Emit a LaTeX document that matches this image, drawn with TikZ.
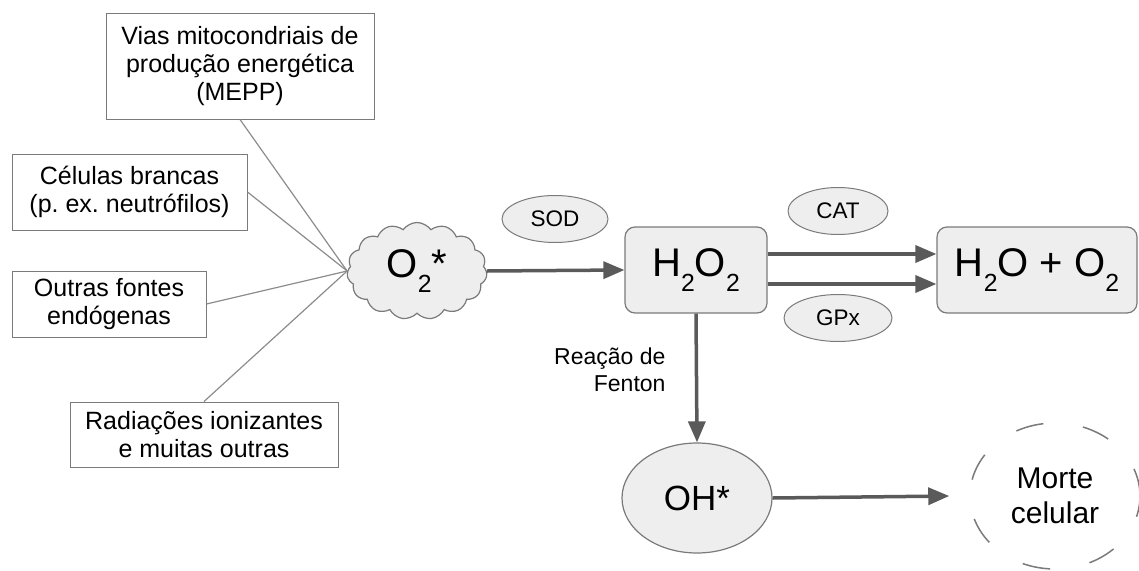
\documentclass[tikz,border=0pt]{standalone}
\usepackage{fontspec}
\setmainfont{Liberation Sans}
\usetikzlibrary{shapes.geometric,shapes.symbols,arrows.meta}
\definecolor{fillgray}{HTML}{EEEEEE}
\definecolor{linegray}{HTML}{7A7A7A}
\definecolor{feedgray}{HTML}{8C8C8C}
\definecolor{arrowgray}{HTML}{5A5A5A}
\newcommand{\chemsub}[1]{\raisebox{-0.36em}{\scalebox{0.62}{#1}}}
\frenchspacing

\begin{document}
\begin{tikzpicture}[x = 1pt, y = -1pt,
  source/.style = {draw = linegray, line width = 1pt, align = center, font = \fontsize{25}{28}\selectfont, inner sep = 0pt},
  enzyme/.style = {ellipse, draw = linegray, fill = fillgray, line width = 1pt, font = \fontsize{22.5}{25}\selectfont, minimum height = 47pt, inner sep = 0pt},
  species/.style = {rectangle, rounded corners = 10pt, draw = linegray, fill = fillgray, line width = 1.2pt, minimum height = 86pt, font = \fontsize{40}{44}\selectfont},
  feed/.style = {draw = feedgray, line width = 1.2pt},
  flow/.style = {draw = arrowgray, line width = 3.5pt, -{Triangle[length = 21pt, width = 17pt]}}]
\useasboundingbox (0, 0) rectangle (1139, 570);

% sources
\node[source, minimum width = 268pt, minimum height = 106pt] (mepp) at (240, 66) {Vias mitocondriais de\\produção energética\\(MEPP)};
\node[source, minimum width = 235pt, minimum height = 76pt] (brancas) at (129.5, 192) {Células brancas\\(p. ex. neutrófilos)};
\node[source, minimum width = 194pt, minimum height = 66pt] (outras) at (109, 304) {Outras fontes\\endógenas};
\node[source, minimum width = 268pt, minimum height = 65pt] (radiacoes) at (204, 434.5) {Radiações ionizantes\\e muitas outras};

\node[cloud, cloud puffs = 15, cloud puff arc = 110, cloud ignores aspect, draw = linegray, fill = fillgray, line width = 1.2pt, minimum width = 140pt, minimum height = 97pt, font = \fontsize{40}{44}\selectfont, inner sep = 0pt] (o2) at (417, 271) {O\chemsub{2}*};

% enzymes and products
\node[enzyme, minimum width = 106pt] (sod) at (555, 219) {SOD};
\node[species, minimum width = 142pt] (h2o2) at (696, 270) {H\chemsub{2}O\chemsub{2}};
\node[enzyme, minimum width = 100pt] (cat) at (838, 211) {CAT};
\node[enzyme, minimum width = 108pt] (gpx) at (838, 318) {GPx};
\node[species, minimum width = 200pt] (h2o) at (1037, 270) {H\chemsub{2}O + O\chemsub{2}};
\node[ellipse, draw = linegray, fill = fillgray, line width = 1.2pt, minimum width = 150pt, minimum height = 110pt, font = \fontsize{35}{40}\selectfont, inner sep = 0pt] (oh) at (697, 498) {OH*};
\node[ellipse, draw = linegray, line width = 1.5pt, dash pattern = on 28pt off 40pt, minimum width = 170pt, minimum height = 146pt, align = center, font = \fontsize{30}{35}\selectfont] (morte) at (1055, 496) {Morte\\celular};
\node[anchor = east, align = right, font = \fontsize{23}{27}\selectfont] (fenton) at (669, 370) {Reação de\\Fenton};

\draw[feed] (mepp.south) -- (o2.west);
\draw[feed] (brancas.east) -- (o2.west);
\draw[feed] (outras.east) -- (o2.west);
\draw[feed] (radiacoes.north) -- (o2.west);

\draw[flow] (o2.east) -- (h2o2.west);
\draw[flow] ([yshift = 16pt]h2o2.east) -- ([yshift = 16pt]h2o.west);
\draw[flow] ([yshift = -14pt]h2o2.east) -- ([yshift = -14pt]h2o.west);
\draw[flow] (h2o2.south) -- (oh.north);
\draw[flow] (oh.east) -- ([xshift = -20pt]morte.west);
\end{tikzpicture}
\end{document}
